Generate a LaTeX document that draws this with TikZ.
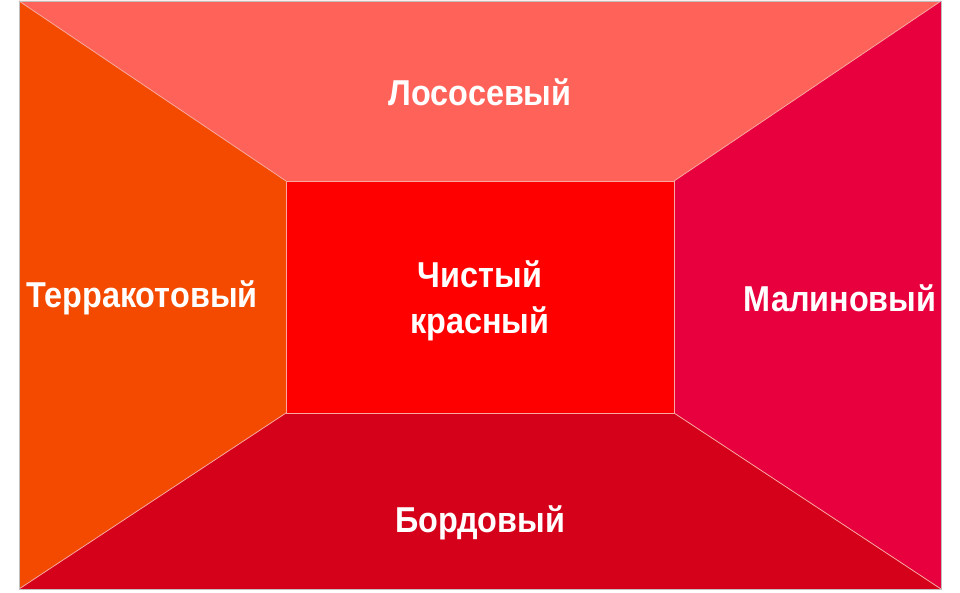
\documentclass[tikz,border=0pt]{standalone}
\usepackage{fontspec}
\setmainfont{Liberation Sans}[FakeStretch=0.9]
\definecolor{salmon}{HTML}{FF6259}
\definecolor{terracotta}{HTML}{F44A00}
\definecolor{purered}{HTML}{FF0000}
\definecolor{raspberry}{HTML}{E8003E}
\definecolor{burgundy}{HTML}{D5001A}
\definecolor{seam}{HTML}{F8A8A0}
\tikzset{
    wall/.style={draw=seam,line width=0.8pt},
    walllabel/.style={text=white,font=\bfseries\fontsize{36}{46}\selectfont,align=center}
}
\begin{document}
\begin{tikzpicture}[x=1pt,y=1pt]
        \useasboundingbox (0,0) rectangle (960,592);
        %% Corners
        \coordinate (oa) at (19,591);
        \coordinate (ob) at (941,591);
        \coordinate (oc) at (941,3);
        \coordinate (od) at (19,3);
        \coordinate (ia) at (286,411);
        \coordinate (ib) at (674,411);
        \coordinate (ic) at (674,179);
        \coordinate (id) at (286,179);
        %% Walls
        \fill[salmon]     (oa) -- (ob) -- (ib) -- (ia) -- cycle;
        \fill[terracotta] (oa) -- (ia) -- (id) -- (od) -- cycle;
        \fill[raspberry]  (ob) -- (oc) -- (ic) -- (ib) -- cycle;
        \fill[burgundy]   (od) -- (id) -- (ic) -- (oc) -- cycle;
        \fill[purered]    (ia) rectangle (ic);
        \draw[wall] (oa) -- (ia);
        \draw[wall] (ob) -- (ib);
        \draw[wall] (oc) -- (ic);
        \draw[wall] (od) -- (id);
        \draw[wall] (ia) rectangle (ic);
        \draw[gray!50,line width=0.8pt] (oa) rectangle (oc);
        %% Labels
        \node[walllabel] (salmonlbl)  at (480,500) {Лососевый};
        \node[walllabel] (terralbl)   at (142,294) {Терракотовый};
        \node[walllabel] (purelbl)    at (480,291) {Чистый\\красный};
        \node[walllabel] (raspberlbl) at (840,294) {Малиновый};
        \node[walllabel] (burglbl)    at (480,69)  {Бордовый};
    \end{tikzpicture}
\end{document}
